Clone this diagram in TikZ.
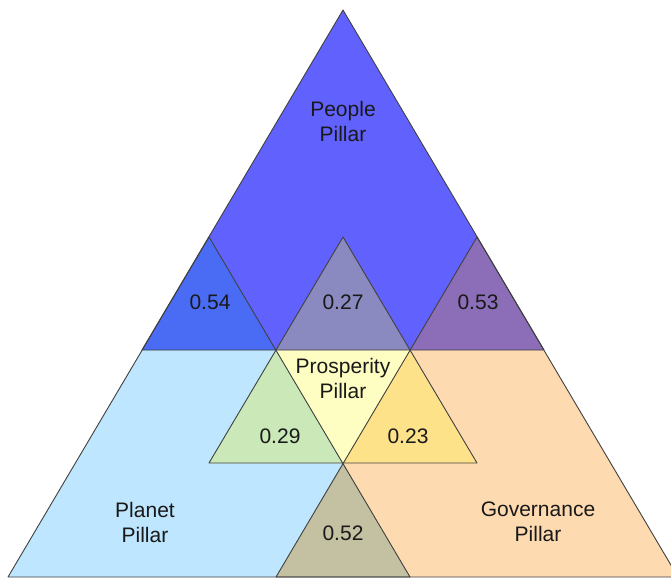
\documentclass[tikz,border=0pt]{standalone}
\usepackage{fontspec}
\setmainfont{Liberation Sans}
\usetikzlibrary{positioning}

\definecolor{people}{HTML}{6161FE}
\definecolor{planet}{HTML}{BEE6FE}
\definecolor{governance}{HTML}{FEDAB0}
\definecolor{prosperity}{HTML}{FEFEC2}
\definecolor{peopleplanet}{HTML}{4A6CF4}
\definecolor{peoplepros}{HTML}{8A8AC0}
\definecolor{peoplegov}{HTML}{8C6EB8}
\definecolor{planetpros}{HTML}{CAE8B8}
\definecolor{govpros}{HTML}{FEE28A}
\definecolor{planetgov}{HTML}{C4C0A2}

\begin{document}
\begin{tikzpicture}[x=1pt, y=-1pt,
    edge/.style={draw=black!75, line width=0.9pt, line join=round},
    pillar/.style={font=\fontsize{21}{25}\selectfont, align=center, text=black!90},
    score/.style={font=\fontsize{21}{24}\selectfont, text=black!90}]
    \useasboundingbox (0,0) rectangle (671,578);

    % corners of the four triangles
    \coordinate (top) at (343,10);
    \coordinate (ppl) at (142,350);
    \coordinate (ppr) at (544,350);
    \coordinate (pla) at (209,237);
    \coordinate (pl1) at (8,577);
    \coordinate (pl2) at (410,577);
    \coordinate (gva) at (477,237);
    \coordinate (gv1) at (276,577);
    \coordinate (gv2) at (678,577);
    \coordinate (pra) at (343,237);
    \coordinate (pr1) at (209,463);
    \coordinate (pr2) at (477,463);
    % where they cross
    \coordinate (mid1) at (276,350);
    \coordinate (mid2) at (410,350);
    \coordinate (low) at (343,463);

    \fill[people] (top) -- (ppl) -- (ppr) -- cycle;
    \fill[planet] (pla) -- (pl1) -- (pl2) -- cycle;
    \fill[governance] (gva) -- (gv1) -- (gv2) -- cycle;
    \fill[prosperity] (pra) -- (pr1) -- (pr2) -- cycle;

    % overlaps
    \fill[peopleplanet] (pla) -- (ppl) -- (mid1) -- cycle;
    \fill[peoplepros] (pra) -- (mid1) -- (mid2) -- cycle;
    \fill[peoplegov] (gva) -- (mid2) -- (ppr) -- cycle;
    \fill[planetpros] (mid1) -- (pr1) -- (low) -- cycle;
    \fill[govpros] (mid2) -- (low) -- (pr2) -- cycle;
    \fill[planetgov] (low) -- (gv1) -- (pl2) -- cycle;

    \draw[edge] (top) -- (ppl) -- (ppr) -- cycle;
    \draw[edge] (pla) -- (pl1) -- (pl2) -- cycle;
    \draw[edge] (gva) -- (gv1) -- (gv2) -- cycle;
    \draw[edge] (pra) -- (pr1) -- (pr2) -- cycle;

    \node[pillar] (people) at (343,121) {People\\Pillar};
    \node[pillar] (prosp) at (343,378) {Prosperity\\Pillar};
    \node[pillar] (planet) at (145,522) {Planet\\Pillar};
    \node[pillar] (gov) at (538,522) {Governance\\Pillar};

    \node[score] (s54) at (210,302) {0.54};
    \node[score] (s27) at (343,302) {0.27};
    \node[score] (s53) at (478,302) {0.53};
    \node[score] (s29) at (280,436) {0.29};
    \node[score] (s23) at (408,436) {0.23};
    \node[score] (s52) at (343,533) {0.52};
\end{tikzpicture}
\end{document}
